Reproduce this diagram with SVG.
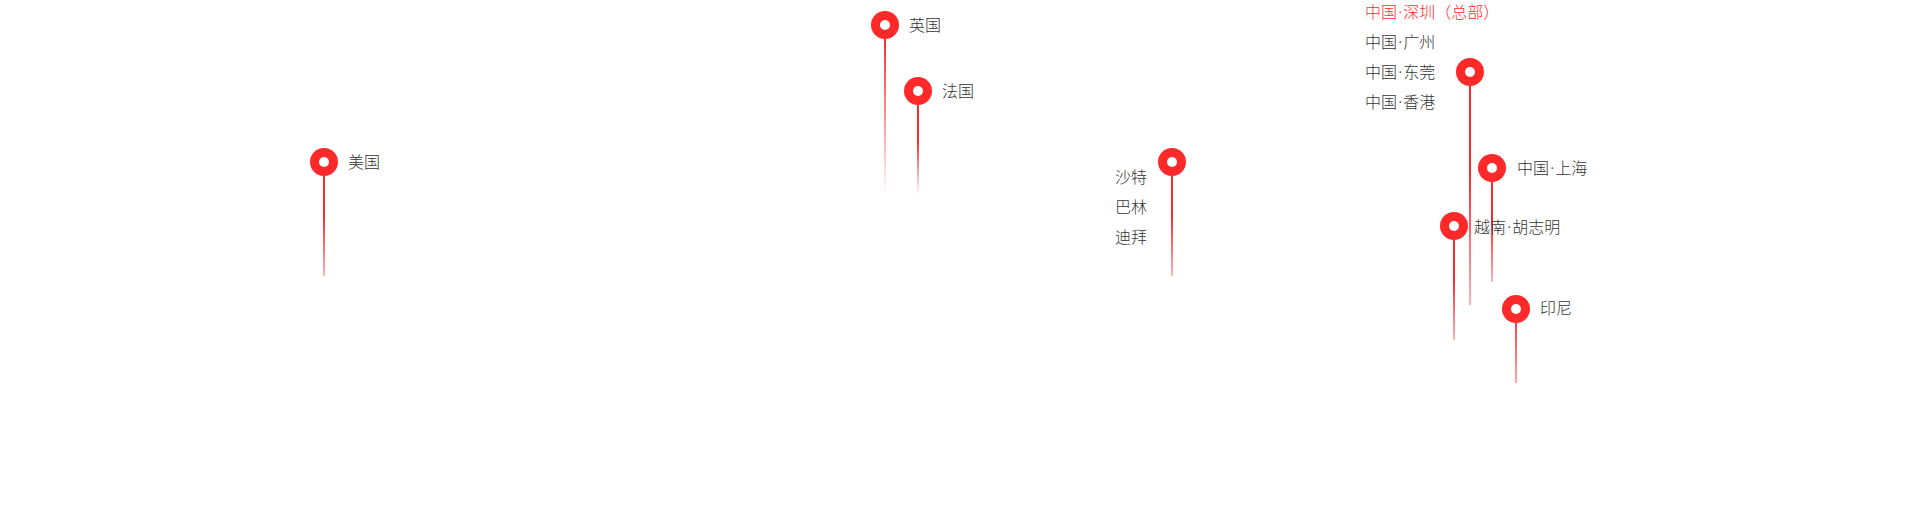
<svg xmlns="http://www.w3.org/2000/svg" width="1920" height="522" viewBox="0 0 1920 522">
<defs>
<linearGradient id="fade" x1="0" y1="0" x2="0" y2="1"><stop offset="0" stop-color="#fe2a2a"/><stop offset="0.4" stop-color="#fe2a2a"/><stop offset="1" stop-color="#fe2a2a" stop-opacity="0.35"/></linearGradient>
<linearGradient id="fadeFr" x1="0" y1="0" x2="0" y2="1"><stop offset="0" stop-color="#fe2a2a"/><stop offset="0.4" stop-color="#fe2a2a"/><stop offset="1" stop-color="#fe2a2a" stop-opacity="0"/></linearGradient>
<linearGradient id="fadeUk" x1="0" y1="0" x2="0" y2="1"><stop offset="0" stop-color="#fe2a2a"/><stop offset="1" stop-color="#fe2a2a" stop-opacity="0"/></linearGradient>
<linearGradient id="fadeId" x1="0" y1="0" x2="0" y2="1"><stop offset="0" stop-color="#fe2a2a" stop-opacity="0.9"/><stop offset="1" stop-color="#fe2a2a" stop-opacity="0.4"/></linearGradient>
</defs>
<style>
text{font-family:"Noto Sans","Noto Sans CJK SC",sans-serif;font-size:16px;font-weight:300;fill:#333;opacity:.99}
.hq{fill:#fe2a2a}
.pin{fill:#fe2a2a}
.dot{fill:#fff}
</style>
<rect width="1920" height="522" fill="#fff"/>
<g id="connectors">
<rect fill="url(#fade)" x="323" y="176" width="2" height="100"/>
<rect fill="url(#fadeUk)" x="884" y="39" width="2" height="156"/>
<rect fill="url(#fadeFr)" x="917" y="105" width="2" height="90"/>
<rect fill="url(#fade)" x="1171" y="176" width="2" height="100"/>
<rect fill="url(#fade)" x="1469" y="86" width="2" height="219"/>
<rect fill="url(#fade)" x="1491" y="182" width="2" height="100"/>
<rect fill="url(#fade)" x="1453" y="240" width="2" height="100"/>
<rect fill="url(#fadeId)" x="1515" y="323" width="2" height="60"/>
</g>
<g id="us"><circle class="pin" cx="324" cy="162" r="14"/><circle class="dot" cx="324" cy="162" r="5"/><text x="348" y="168">美国</text></g>
<g id="uk"><circle class="pin" cx="885" cy="25" r="14"/><circle class="dot" cx="885" cy="25" r="5"/><text x="909" y="31">英国</text></g>
<g id="fr"><circle class="pin" cx="918" cy="91" r="14"/><circle class="dot" cx="918" cy="91" r="5"/><text x="942" y="97">法国</text></g>
<g id="me"><circle class="pin" cx="1172" cy="162" r="14"/><circle class="dot" cx="1172" cy="162" r="5"/><text x="1115" y="183">沙特</text><text x="1115" y="213">巴林</text><text x="1115" y="243">迪拜</text></g>
<g id="cn"><circle class="pin" cx="1470" cy="72" r="14"/><circle class="dot" cx="1470" cy="72" r="5"/><text class="hq" x="1365" y="18">中国<tspan dx="1.2">·</tspan><tspan dx="1.2">深圳（总部）</tspan></text><text x="1365" y="48">中国<tspan dx="1.2">·</tspan><tspan dx="1.2">广州</tspan></text><text x="1365" y="78">中国<tspan dx="1.2">·</tspan><tspan dx="1.2">东莞</tspan></text><text x="1365" y="108">中国<tspan dx="1.2">·</tspan><tspan dx="1.2">香港</tspan></text></g>
<g id="sh"><circle class="pin" cx="1492" cy="168" r="14"/><circle class="dot" cx="1492" cy="168" r="5"/><text x="1517" y="174">中国<tspan dx="1.2">·</tspan><tspan dx="1.2">上海</tspan></text></g>
<g id="vn"><circle class="pin" cx="1454" cy="226" r="14"/><circle class="dot" cx="1454" cy="226" r="5"/><text x="1474" y="233">越南<tspan dx="1.2">·</tspan><tspan dx="1.2">胡志明</tspan></text></g>
<g id="id"><circle class="pin" cx="1516" cy="309" r="14"/><circle class="dot" cx="1516" cy="309" r="5"/><text x="1540" y="314">印尼</text></g>
</svg>
